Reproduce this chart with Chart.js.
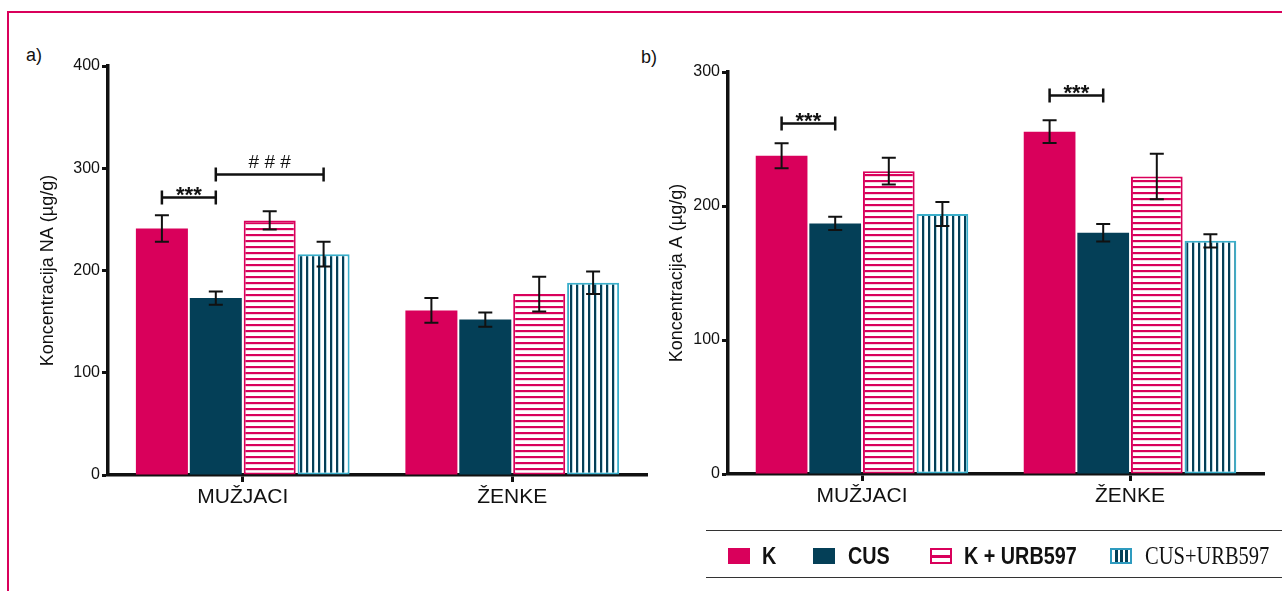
<!DOCTYPE html>
<html>
<head>
<meta charset="utf-8">
<script src="https://cdn.jsdelivr.net/npm/chart.js@4.4.1/dist/chart.umd.min.js"></script>
<style>
  html, body { margin: 0; padding: 0; background: #fff; }
  #page { position: relative; width: 1282px; height: 591px; overflow: hidden; background: #fff;
          font-family: "Liberation Sans", Arial, sans-serif; color: #111; }
  #frame { position: absolute; left: 7px; top: 11px; width: 1300px; height: 600px;
           border-top: 2px solid #D9005B; border-left: 2px solid #D9005B; }
  .panel { position: absolute; font-size: 18px; line-height: 18px; color: #111; }
  #cA { position: absolute; left: 0; top: 0; }
  #cB { position: absolute; left: 640px; top: 0; }
  #legend { position: absolute; left: 706px; top: 530px; width: 580px; height: 46px;
            border-top: 1.5px solid #333; border-bottom: 1.5px solid #333; }
  .sw { position: absolute; top: 17px; width: 22px; height: 16px; box-sizing: border-box; }
  .lt { position: absolute; top: 12px; line-height: 26px; color: #111; white-space: nowrap;
        transform-origin: 0 50%; }
  .sans { font-family: "Liberation Sans", Arial, sans-serif; font-weight: bold; font-size: 23px;
          transform: scaleX(0.86); }
  .serif { font-family: "Liberation Serif", "Times New Roman", serif; font-size: 25px;
           transform: scaleX(0.82); }
</style>
</head>
<body>
<div id="page">
  <div id="frame"></div>
  <div class="panel" style="left:26px; top:46px;">a)</div>
  <div class="panel" style="left:641px; top:48px;">b)</div>
  <canvas id="cA" width="660" height="520"></canvas>
  <canvas id="cB" width="642" height="520"></canvas>
  <div id="legend">
    <div class="sw" style="left:22px; background:#D9005B;"></div>
    <div class="lt sans" style="left:56px;">K</div>
    <div class="sw" style="left:107px; background:#043F57;"></div>
    <div class="lt sans" style="left:142px;">CUS</div>
    <div class="sw" style="left:224px; border:2px solid #D9005B; background:linear-gradient(#fff 0 5px,#D9005B 5px 8px,#fff 8px);"></div>
    <div class="lt sans" style="left:258px;">K + URB597</div>
    <div class="sw" style="left:404px; border:2px solid #2E9BBF; background:linear-gradient(90deg,#fff 0 3px,#043F57 3px 6px,#fff 6px 8px,#043F57 8px 11px,#fff 11px 13px,#043F57 13px 16px,#fff 16px);"></div>
    <div class="lt serif" style="left:439px;">CUS+URB597</div>
  </div>
</div>
<script>
// Groups on the x axis and the four treatment series
const categories = ['MUŽJACI', 'ŽENKE'];
const seriesNames = ['K', 'CUS', 'K + URB597', 'CUS+URB597'];

// Panel a: noradrenaline concentration (µg/g), mean and SEM
const naK = [241, 161];
const naKErr = [13, 12];
const naCUS = [173, 152];
const naCUSErr = [6.5, 7];
const naKURB = [249, 177];
const naKURBErr = [9, 17];
const naCUSURB = [216, 188];
const naCUSURBErr = [12, 11];
const naTicks = [0, 100, 200, 300, 400];

// Panel b: adrenaline concentration (µg/g), mean and SEM
const aK = [237.5, 255.5];
const aKErr = [9.3, 8.5];
const aCUS = [187, 180];
const aCUSErr = [5, 6.5];
const aKURB = [226, 222];
const aKURBErr = [10, 17];
const aCUSURB = [194, 174];
const aCUSURBErr = [9, 5];
const aTicks = [0, 100, 200, 300];

// Significance brackets: [group, series] endpoints, height in axis units, label
const naBrackets = [
  { from: [0, 0], to: [0, 1], at: 272, label: '***' },
  { from: [0, 1], to: [0, 3], at: 294, label: '# # #' }
];
const aBrackets = [
  { from: [0, 0], to: [0, 1], at: 262, label: '***' },
  { from: [1, 0], to: [1, 1], at: 283, label: '***' }
];

const MAGENTA = '#D9005B';
const TEAL = '#043F57';
const CYAN = '#3AAFCB';

function hStripes(ctx) {
  const c = document.createElement('canvas');
  c.width = 8; c.height = 6;
  const g = c.getContext('2d');
  g.fillStyle = '#fff'; g.fillRect(0, 0, 8, 6);
  g.fillStyle = MAGENTA; g.fillRect(0, 0, 8, 2);
  g.fillStyle = '#f7d2e0'; g.fillRect(0, 2, 8, 1);
  return ctx.createPattern(c, 'repeat');
}
function vStripes(ctx) {
  const c = document.createElement('canvas');
  c.width = 6; c.height = 8;
  const g = c.getContext('2d');
  g.fillStyle = '#fff'; g.fillRect(0, 0, 6, 8);
  g.fillStyle = TEAL; g.fillRect(0, 0, 2, 8);
  g.fillStyle = '#b5d6e0'; g.fillRect(2, 0, 1, 8);
  return ctx.createPattern(c, 'repeat');
}

const errorBars = {
  id: 'errorBars',
  afterDatasetsDraw(chart) {
    const ctx = chart.ctx, y = chart.scales.y;
    ctx.save();
    ctx.strokeStyle = '#111';
    ctx.lineWidth = 2;
    chart.data.datasets.forEach((ds, di) => {
      chart.getDatasetMeta(di).data.forEach((bar, i) => {
        const v = ds.data[i], e = ds.errors[i];
        const yt = y.getPixelForValue(v + e), yb = y.getPixelForValue(v - e);
        ctx.beginPath();
        ctx.moveTo(bar.x, yt); ctx.lineTo(bar.x, yb);
        ctx.moveTo(bar.x - 7, yt); ctx.lineTo(bar.x + 7, yt);
        ctx.moveTo(bar.x - 7, yb); ctx.lineTo(bar.x + 7, yb);
        ctx.stroke();
      });
    });
    ctx.restore();
  }
};

const brackets = {
  id: 'brackets',
  afterDatasetsDraw(chart, args, opts) {
    const ctx = chart.ctx, y = chart.scales.y;
    ctx.save();
    ctx.strokeStyle = '#111';
    ctx.fillStyle = '#111';
    ctx.lineWidth = 2.5;
    (opts.items || []).forEach(b => {
      const xa = chart.getDatasetMeta(b.from[1]).data[b.from[0]].x;
      const xb = chart.getDatasetMeta(b.to[1]).data[b.to[0]].x;
      const yp = Math.round(y.getPixelForValue(b.at)) + 0.5;
      ctx.beginPath();
      ctx.moveTo(xa, yp); ctx.lineTo(xb, yp);
      ctx.moveTo(xa, yp - 7); ctx.lineTo(xa, yp + 7);
      ctx.moveTo(xb, yp - 7); ctx.lineTo(xb, yp + 7);
      ctx.stroke();
      ctx.textAlign = 'center';
      ctx.textBaseline = 'alphabetic';
      if (b.label.indexOf('#') >= 0) {
        ctx.font = '19px "Liberation Sans", Arial, sans-serif';
        ctx.fillText(b.label, (xa + xb) / 2, yp - 7);
      } else {
        ctx.font = 'bold 22px "Liberation Sans", Arial, sans-serif';
        ctx.fillText(b.label, (xa + xb) / 2, yp + 4);
      }
    });
    ctx.restore();
  }
};

function makeChart(id, vals, errs, ticks, title, layout, bracketItems) {
  const canvas = document.getElementById(id);
  const ctx = canvas.getContext('2d');
  const fills = [MAGENTA, TEAL, hStripes(ctx), vStripes(ctx)];
  const borders = [MAGENTA, TEAL, MAGENTA, CYAN];
  const widths = [0, 0, 2, 2];
  const datasets = seriesNames.map((name, k) => ({
    label: name,
    data: vals[k],
    errors: errs[k],
    backgroundColor: fills[k],
    borderColor: borders[k],
    borderWidth: widths[k],
    borderSkipped: false,
    categoryPercentage: 0.8,
    barPercentage: 0.965
  }));
  return new Chart(ctx, {
    type: 'bar',
    data: { labels: categories, datasets },
    plugins: [errorBars, brackets],
    options: {
      responsive: false,
      animation: false,
      layout: { padding: { left: layout.padLeft, top: layout.top, right: layout.padRight, bottom: 0 } },
      plugins: {
        legend: { display: false },
        tooltip: { enabled: false },
        brackets: { items: bracketItems }
      },
      scales: {
        x: {
          afterFit(s) { s.height = layout.xHeight; },
          grid: { display: true, drawOnChartArea: false, drawTicks: true, offset: false,
                  tickLength: 7, tickWidth: 3, tickColor: '#111' },
          border: { display: true, width: 3.5, color: '#111' },
          ticks: { color: '#111', padding: 3, maxRotation: 0,
                   font: { family: '"Liberation Sans", Arial, sans-serif', size: 21 } }
        },
        y: {
          min: ticks[0],
          max: ticks[ticks.length - 1],
          afterFit(s) { s.width = layout.yWidth; },
          afterBuildTicks(s) { s.ticks = ticks.map(v => ({ value: v })); },
          grid: { display: true, drawOnChartArea: false, drawTicks: true,
                  tickLength: 6, tickWidth: 3, tickColor: '#111' },
          border: { display: true, width: 3.5, color: '#111' },
          ticks: { color: '#111', padding: 2,
                   font: { family: '"Liberation Sans", Arial, sans-serif', size: 16 } },
          title: { display: true, text: title, color: '#111', padding: 0,
                   font: { family: '"Liberation Sans", Arial, sans-serif', size: 18 } }
        }
      }
    }
  });
}

makeChart('cA',
  [naK, naCUS, naKURB, naCUSURB],
  [naKErr, naCUSErr, naKURBErr, naCUSURBErr],
  naTicks, 'Koncentracija NA (µg/g)',
  { padLeft: 37, padRight: 13, top: 66, yWidth: 71, xHeight: 45 },
  naBrackets);

makeChart('cB',
  [aK, aCUS, aKURB, aCUSURB],
  [aKErr, aCUSErr, aKURBErr, aCUSURBErr],
  aTicks, 'Koncentracija A (µg/g)',
  { padLeft: 26, padRight: 18, top: 72, yWidth: 62, xHeight: 46 },
  aBrackets);
</script>
</body>
</html>
